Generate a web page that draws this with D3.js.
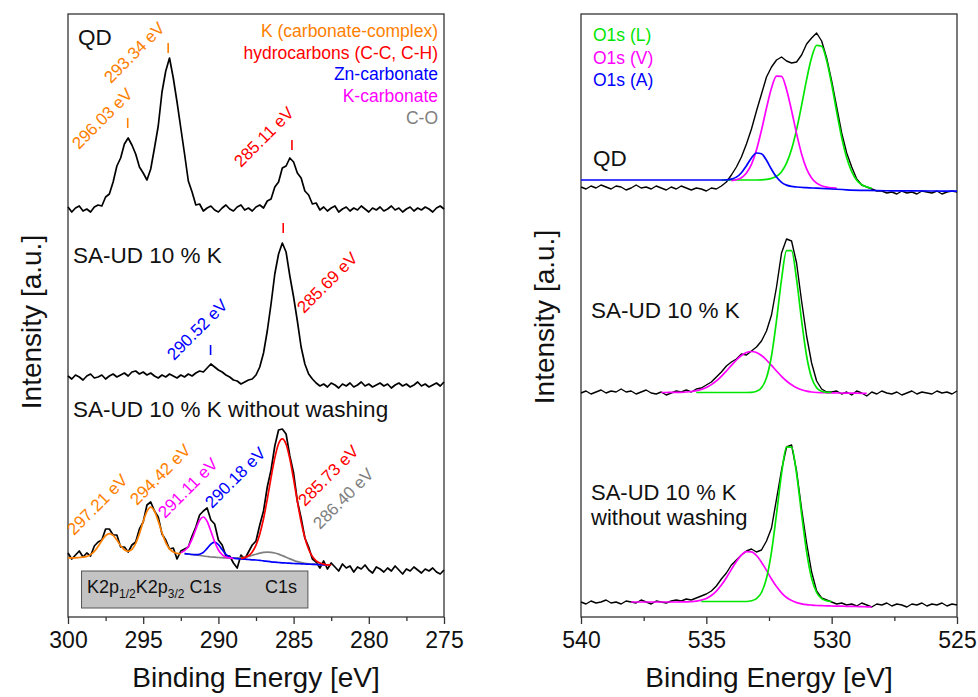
<!DOCTYPE html>
<html>
<head>
<meta charset="utf-8">
<script src="https://cdnjs.cloudflare.com/ajax/libs/d3/7.8.5/d3.min.js"></script>
<style>
  body { margin: 0; background: #fff; }
  svg { display: block; }
</style>
</head>
<body>
<svg id="chart" width="978" height="697"></svg>
<script>
// ---------- C1s / K2p panel (left), 300 -> 275 eV, 0.25 eV steps ----------
const c1sStart = 300, c1sStep = 0.25;
const c1sQD = [
  41.0, 40.5, 40.9, 41.1, 40.6, 40.8, 40.5, 41.0, 41.2, 41.1,
  42.0, 42.3, 43.5, 45.1, 45.9, 47.3, 47.9, 47.2, 46.3, 45.0,
  44.4, 43.7, 44.8, 46.9, 49.1, 52.5, 54.6, 55.9, 53.9, 51.5,
  48.9, 46.3, 43.6, 42.5, 41.2, 41.3, 40.6, 40.9, 41.1, 40.7,
  40.5, 40.9, 41.2, 40.8, 40.6, 41.0, 41.2, 40.7, 40.9, 40.6,
  41.0, 41.2, 40.9, 41.6, 41.8, 43.0, 43.5, 44.9, 45.1, 45.9,
  45.5, 44.4, 43.9, 42.6, 42.2, 41.3, 41.4, 40.7, 41.0, 40.6,
  40.9, 41.1, 40.5, 40.8, 41.0, 40.6, 40.9, 40.7, 41.1, 40.8,
  40.5, 40.9, 40.7, 41.0, 40.6, 40.8, 41.1, 40.7, 40.9, 40.5,
  40.8, 41.0, 40.6, 40.9, 40.7, 41.0, 40.8, 40.5, 40.9, 41.1,
  40.8];
const c1sSAUD = [
  24.1, 23.8, 24.2, 24.0, 23.7, 24.1, 24.3, 23.9, 24.0, 24.2,
  23.8, 24.1, 24.3, 24.0, 24.2, 24.4, 24.1, 24.5, 24.6, 24.3,
  24.5, 24.2, 24.4, 24.1, 23.9, 24.2, 24.0, 24.3, 24.1, 23.9,
  24.2, 24.0, 24.3, 24.1, 24.4, 24.6, 24.5, 24.9, 25.3, 25.0,
  24.7, 24.5, 24.2, 24.0, 23.7, 23.6, 23.3, 23.5, 23.7, 23.8,
  24.2, 25.0, 26.4, 28.6, 31.3, 34.3, 36.3, 37.4, 36.5, 34.1,
  32.0, 29.6, 27.0, 25.3, 24.3, 23.8, 23.4, 23.1, 23.3, 23.0,
  23.4, 23.2, 22.9, 23.3, 23.1, 23.4, 23.0, 23.2, 23.5, 23.1,
  23.3, 23.0, 23.2, 23.4, 23.1, 23.3, 22.9, 23.2, 23.4, 23.1,
  23.3, 23.0, 23.2, 23.5, 23.1, 23.3, 23.0, 23.2, 23.4, 23.1,
  23.5];
const c1sSAUDnw = [
  6.4, 5.8, 6.2, 6.6, 6.0, 6.4, 6.1, 7.1, 7.5, 7.7,
  8.8, 8.8, 8.2, 8.2, 7.0, 7.0, 6.5, 7.2, 7.5, 8.8,
  9.5, 11.2, 11.5, 10.6, 10.0, 8.3, 7.7, 6.8, 6.9, 5.8,
  6.6, 6.8, 7.0, 8.1, 9.0, 10.2, 10.6, 10.9, 9.7, 9.3,
  7.7, 7.2, 6.1, 6.1, 5.4, 4.9, 6.2, 5.8, 6.5, 7.2,
  7.6, 9.2, 10.6, 13.0, 14.7, 17.1, 18.7, 18.8, 18.3, 16.1,
  14.4, 11.6, 9.9, 7.9, 7.0, 5.8, 5.5, 4.9, 5.6, 4.8,
  5.4, 5.0, 4.6, 5.3, 4.9, 5.1, 4.5, 5.0, 4.8, 5.2,
  4.7, 4.4, 5.0, 4.8, 4.5, 4.9, 4.6, 5.1, 4.7, 4.3,
  4.8, 4.6, 5.0, 4.7, 4.4, 4.8, 4.6, 4.9, 4.5, 4.3,
  4.7];

// fitted components of "SA-UD 10 % K without washing" (0.25 eV steps)
const fitKComplex = [5.90, 5.91, 5.92, 5.95, 5.98, 6.06, 6.24, 6.56, 7.05, 7.64, 8.13, 8.34, 8.16, 7.69, 7.13, 6.73,
  6.57, 6.76, 7.35, 8.34, 9.54, 10.56, 10.98, 10.59, 9.59, 8.42, 7.44, 6.81, 6.49, 6.37, 6.34];        // from 300
const fitCO = [6.33, 6.30, 6.25, 6.20, 6.15, 6.10, 6.05, 6.00, 5.98, 5.95, 5.93, 5.90, 5.89, 5.89, 5.91, 5.93,
  5.99, 6.06, 6.17, 6.28, 6.38, 6.46, 6.49, 6.47, 6.40, 6.29, 6.14, 5.98, 5.81, 5.66, 5.54, 5.45,
  5.37, 5.32, 5.29, 5.26, 5.24, 5.22, 5.20];                                                             // from 292.25
const fitZnCarb = [6.33, 6.30, 6.25, 6.23, 6.28, 6.47, 6.86, 7.29, 7.48, 7.24, 6.74, 6.27, 6.01, 5.88, 5.83, 5.80,
  5.78, 5.75, 5.72, 5.70, 5.66, 5.62, 5.57, 5.52, 5.48, 5.45, 5.42, 5.40, 5.38, 5.35, 5.34, 5.32,
  5.30, 5.28, 5.27, 5.25, 5.24, 5.22, 5.20];                                                             // from 292.25
const fitKCarb = [6.44, 6.63, 7.05, 7.79, 8.78, 9.67, 10.0, 9.57, 8.58, 7.52, 6.70, 6.23, 5.99, 5.91, 5.85]; // from 292.5
const fitHydroC = [5.87, 5.94, 6.12, 6.50, 7.19, 8.28, 9.82, 11.79, 13.93, 15.91, 17.33, 17.82, 17.28, 15.81,
  13.76, 11.55, 9.52, 7.92, 6.77, 6.05, 5.62, 5.40, 5.29, 5.21, 5.20];                                    // from 288.5

const c1sTicks = [300, 295, 290, 285, 280, 275];
const c1sMinor = [297.5, 292.5, 287.5, 282.5, 277.5];
const c1sLegend = ["K (carbonate-complex)", "hydrocarbons (C-C, C-H)", "Zn-carbonate", "K-carbonate", "C-O"];

// peak annotations
const markText = ["296.03 eV", "293.34 eV", "285.11 eV", "290.52 eV", "285.69 eV",
  "297.21 eV", "294.42 eV", "291.11 eV", "290.18 eV", "285.73 eV", "286.40 eV"];
const markBE = [296.03, 293.34, 285.11, 290.52, 285.69];
const markTickBase = [48.9, 56.4, 46.7, 26.2, 38.4];

// ---------- O1s panel (right), 540 -> 525 eV, 0.2 eV steps ----------
const o1sStart = 540, o1sStep = 0.2;
const o1sQD = [
  43.0, 42.8, 43.1, 42.9, 43.2, 43.0, 42.8, 43.1, 43.0, 42.7,
  42.9, 43.2, 42.9, 43.0, 42.8, 43.1, 42.9, 42.7, 43.0, 42.8,
  43.1, 42.9, 42.7, 42.9, 42.8, 42.6, 42.9, 42.8, 43.1, 43.5,
  44.2, 45.0, 46.0, 47.3, 48.8, 50.6, 52.3, 54.0, 55.0, 55.7,
  56.0, 55.6, 55.4, 55.5, 56.2, 57.3, 57.9, 58.4, 57.6, 55.9,
  53.6, 51.0, 48.4, 46.4, 45.0, 43.8, 43.2, 43.0, 42.8, 42.6,
  42.6, 42.4, 42.5, 42.3, 42.6, 42.4, 42.5, 42.3, 42.6, 42.5,
  42.4, 42.6, 42.3, 42.5, 42.6, 42.5];
const o1sSAUD = [
  22.4, 22.6, 22.3, 22.5, 22.7, 22.4, 22.6, 22.5, 22.8, 22.5,
  22.6, 22.3, 22.5, 22.7, 22.4, 22.3, 22.5, 22.2, 22.4, 22.6,
  22.5, 22.7, 22.5, 22.8, 22.9, 23.2, 23.5, 24.0, 24.5, 25.1,
  25.5, 25.8, 26.3, 26.2, 26.6, 27.0, 27.6, 28.6, 30.2, 33.0,
  36.4, 37.8, 37.6, 35.4, 31.6, 28.1, 25.4, 23.6, 22.8, 22.5,
  22.5, 22.6, 22.3, 22.5, 22.2, 22.6, 22.4, 22.1, 22.5, 22.3,
  22.6, 22.4, 22.3, 22.5, 22.2, 22.4, 22.6, 22.3, 22.5, 22.4,
  22.3, 22.6, 22.4, 22.5, 22.3, 22.6];
const o1sSAUDnw = [
  1.5, 1.3, 1.6, 1.4, 1.5, 1.7, 1.4, 1.5, 1.3, 1.6,
  1.5, 1.4, 1.7, 1.5, 1.3, 1.6, 1.5, 1.4, 1.6, 1.7,
  1.6, 1.8, 1.7, 1.9, 2.1, 2.3, 2.6, 3.1, 3.8, 4.4,
  5.2, 5.7, 6.2, 6.6, 6.8, 6.5, 6.7, 7.6, 8.9, 11.8,
  14.7, 17.0, 17.2, 14.6, 10.8, 7.4, 4.5, 2.6, 1.9, 1.7,
  1.5, 1.3, 1.4, 1.2, 1.3, 1.1, 1.4, 1.2, 1.0, 1.3,
  1.2, 1.4, 1.1, 1.3, 1.2, 1.0, 1.3, 1.2, 1.4, 1.1,
  1.3, 1.2, 1.4, 1.1, 1.3, 1.2];

// O1s fitted components (0.2 eV steps unless given as pairs)
const fitLQD = [43.7, 43.7, 43.7, 43.7, 43.7, 43.7, 43.7, 43.7, 43.71, 43.76, 43.86, 44.07, 44.53, 45.38, 46.77,
  48.74, 51.16, 53.74, 55.94, 57.17, 57.07, 55.64, 53.26, 50.51, 47.94, 45.92, 44.53, 43.68, 43.22, 43.01, 42.86]; // from 534.4
const fitVQD = [43.64, 43.73, 43.93, 44.4, 45.27, 46.71, 48.67, 50.9, 52.91, 54.09, 54.07, 52.76, 50.65, 48.34,
  46.31, 44.82, 43.91, 43.38, 43.13, 42.99, 42.92, 42.9];                                                           // from 534.0
const fitAQD = [[540, 43.7], [534.4, 43.7], [534.2, 43.72], [534.0, 43.79], [533.8, 43.99], [533.6, 44.43],
  [533.4, 45.13], [533.2, 45.9], [533.0, 46.4], [532.8, 46.32], [532.6, 45.67], [532.4, 44.77], [532.2, 43.99],
  [532.0, 43.47], [531.8, 43.19], [531.6, 43.06], [531.4, 43.0], [531.0, 42.93], [530.6, 42.88], [530.0, 42.8],
  [529.4, 42.72], [528.6, 42.66], [527.6, 42.62], [526.0, 42.6], [525.0, 42.58]];
const fitVSAUD = [22.45, 22.45, 22.46, 22.46, 22.47, 22.5, 22.55, 22.63, 22.76, 22.95, 23.24, 23.61, 24.07, 24.6,
  25.16, 25.7, 26.15, 26.45, 26.55, 26.45, 26.15, 25.7, 25.16, 24.6, 24.07, 23.6, 23.22, 22.92, 22.72, 22.58,
  22.5, 22.45, 22.43, 22.42, 22.41, 22.4, 22.4, 22.39, 22.39, 22.38, 22.37, 22.37];                               // from 536.8
const fitLSAUD = [22.45, 22.45, 22.45, 22.45, 22.45, 22.45, 22.45, 22.45, 22.45, 22.45, 22.45, 22.46, 22.57, 22.92,
  23.92, 26.1, 29.65, 33.77, 36.64, 36.64, 33.77, 29.65, 26.1, 23.92, 22.92, 22.57, 22.46, 22.45];                 // from 535.4
const fitVSAUDnw = [1.5, 1.5, 1.5, 1.5, 1.5, 1.5, 1.5, 1.5, 1.5, 1.5, 1.51, 1.52, 1.54, 1.59, 1.69, 1.86, 2.15,
  2.59, 3.19, 3.93, 4.76, 5.56, 6.19, 6.53, 6.52, 6.15, 5.48, 4.66, 3.8, 3.04, 2.42, 1.95, 1.64, 1.44, 1.32, 1.24,
  1.19, 1.15, 1.13, 1.12, 1.1, 1.09, 1.08, 1.07, 1.06, 1.05, 1.04, 1.02, 1.0];                                     // from 538.0
const fitLSAUDnw = [1.55, 1.55, 1.55, 1.55, 1.55, 1.55, 1.55, 1.55, 1.55, 1.55, 1.63, 1.83, 2.45, 3.87, 6.51, 10.3,
  14.32, 16.99, 16.99, 14.32, 10.3, 6.51, 3.87, 2.45, 1.83, 1.63, 1.55];                                          // from 535.2

const o1sTicks = [540, 535, 530, 525];
const o1sMinor = [537.5, 532.5, 527.5];
const o1sLegend = ["O1s (L)", "O1s (V)", "O1s (A)"];

// ---------- drawing ----------
const FONT = '"Liberation Sans", Arial, Helvetica, sans-serif';
const ORANGE = "#ff8000", RED = "#ff0000", BLUE = "#0000ff", MAGENTA = "#ff00ff", GRAY = "#808080", GREEN = "#00e600";

const svg = d3.select("#chart").attr("font-family", FONT);
const y = d3.scaleLinear().domain([0, 60.3]).range([617, 14]);
const xC = d3.scaleLinear().domain([300, 275]).range([68, 444]);
const xO = d3.scaleLinear().domain([540, 525]).range([581, 957]);

// turn (start, step, values) into [BE, intensity] points
function steps(start, step, values) {
  return values.map((v, i) => [start - i * step, v]);
}

function drawLine(x, pts, color, width, curve) {
  const line = d3.line().x(d => x(d[0])).y(d => y(d[1])).curve(curve || d3.curveLinear);
  svg.append("path")
    .attr("d", line(pts))
    .attr("fill", "none")
    .attr("stroke", color)
    .attr("stroke-width", width)
    .attr("stroke-linejoin", "round");
}

function drawFrame(x, ticks, minor, ylabX, ylabY) {
  const [x0, x1] = x.range();
  svg.append("rect")
    .attr("x", x0).attr("y", 14)
    .attr("width", x1 - x0).attr("height", 603)
    .attr("fill", "none").attr("stroke", "#333").attr("stroke-width", 1.3);

  const major = svg.append("g").attr("transform", "translate(0,617)")
    .call(d3.axisBottom(x).tickValues(ticks).tickSize(7).tickSizeOuter(0).tickPadding(8).tickFormat(d3.format("d")));
  major.select(".domain").remove();
  major.attr("font-family", FONT).attr("font-size", 23);
  major.selectAll("line").attr("stroke", "#333").attr("stroke-width", 1.3);
  major.selectAll("text").attr("fill", "#111");

  const mnr = svg.append("g").attr("transform", "translate(0,617)")
    .call(d3.axisBottom(x).tickValues(minor).tickSize(4).tickSizeOuter(0).tickFormat(""));
  mnr.select(".domain").remove();
  mnr.selectAll("line").attr("stroke", "#333").attr("stroke-width", 1.3);

  svg.append("text")
    .attr("x", (x0 + x1) / 2).attr("y", 687)
    .attr("text-anchor", "middle").attr("font-size", 28).attr("fill", "#111")
    .text("Binding Energy [eV]");
  svg.append("text")
    .attr("transform", `translate(${ylabX},${ylabY}) rotate(-90)`)
    .attr("text-anchor", "middle").attr("font-size", 28).attr("fill", "#111")
    .text("Intensity [a.u.]");
}

function label(txt, x, yy, size, color, anchor) {
  return svg.append("text")
    .attr("x", x).attr("y", yy)
    .attr("font-size", size).attr("fill", color || "#111")
    .attr("text-anchor", anchor || "start")
    .text(txt);
}

// ----- left panel -----
drawFrame(xC, c1sTicks, c1sMinor, 41, 322);

// gray assignment box
svg.append("rect")
  .attr("x", xC(299.1)).attr("y", 571)
  .attr("width", xC(284.05) - xC(299.1)).attr("height", 37)
  .attr("fill", "#c3c3c3").attr("stroke", "#555").attr("stroke-width", 1);
const boxTxt = svg.append("text").attr("x", 87).attr("y", 593).attr("font-size", 18).attr("fill", "#111");
boxTxt.append("tspan").text("K2p");
boxTxt.append("tspan").attr("font-size", 12).attr("dy", 5).text("1/2");
boxTxt.append("tspan").attr("dy", -5).text("K2p");
boxTxt.append("tspan").attr("font-size", 12).attr("dy", 5).text("3/2");
boxTxt.append("tspan").attr("dy", -5).text(" C1s");
label("C1s", 265, 593, 18);

drawLine(xC, steps(c1sStart, c1sStep, c1sQD), "#000", 1.7);
drawLine(xC, steps(c1sStart, c1sStep, c1sSAUD), "#000", 1.7);
drawLine(xC, steps(c1sStart, c1sStep, c1sSAUDnw), "#000", 1.7);

const c1sFits = [
  { start: 300, values: fitKComplex, color: ORANGE },
  { start: 292.25, values: fitCO, color: GRAY },
  { start: 292.25, values: fitZnCarb, color: BLUE },
  { start: 292.5, values: fitKCarb, color: MAGENTA },
  { start: 288.5, values: fitHydroC, color: RED }
];
c1sFits.forEach(f => drawLine(xC, steps(f.start, 0.25, f.values), f.color, 1.7, d3.curveMonotoneX));

// legend
const c1sLegendColor = [ORANGE, RED, BLUE, MAGENTA, GRAY];
c1sLegend.forEach((t, i) => label(t, 438, 37 + i * 21.7, 17.5, c1sLegendColor[i], "end"));

// sample names
label("QD", 78, 45, 22.5);
label("SA-UD 10 % K", 73, 263, 22.5);
label("SA-UD 10 % K without washing", 73, 417, 22.5);

// peak markers and rotated energies
const markColor = [ORANGE, ORANGE, RED, BLUE, RED, ORANGE, ORANGE, MAGENTA, BLUE, RED, GRAY];
const markLabelAt = [[79, 150], [111, 84], [241, 168], [174, 361], [304, 314],
  [74, 536], [137, 506], [165, 519], [212, 509], [305, 507], [320, 530]];
markBE.forEach((be, i) => {
  svg.append("line")
    .attr("x1", xC(be)).attr("x2", xC(be))
    .attr("y1", y(markTickBase[i])).attr("y2", y(markTickBase[i]) - 10)
    .attr("stroke", markColor[i]).attr("stroke-width", 1.6);
});
markText.forEach((t, i) => {
  svg.append("text")
    .attr("transform", `translate(${markLabelAt[i][0]},${markLabelAt[i][1]}) rotate(-45)`)
    .attr("font-size", 17).attr("fill", markColor[i])
    .text(t);
});

// ----- right panel -----
drawFrame(xO, o1sTicks, o1sMinor, 554, 317);

drawLine(xO, steps(o1sStart, o1sStep, o1sQD), "#000", 1.4);
drawLine(xO, steps(o1sStart, o1sStep, o1sSAUD), "#000", 1.4);
drawLine(xO, steps(o1sStart, o1sStep, o1sSAUDnw), "#000", 1.4);

drawLine(xO, steps(534.4, 0.2, fitLQD), GREEN, 1.7, d3.curveMonotoneX);
drawLine(xO, steps(534.0, 0.2, fitVQD), MAGENTA, 1.7, d3.curveMonotoneX);
drawLine(xO, fitAQD, BLUE, 1.7, d3.curveMonotoneX);
drawLine(xO, steps(536.8, 0.2, fitVSAUD), MAGENTA, 1.7, d3.curveMonotoneX);
drawLine(xO, steps(535.4, 0.2, fitLSAUD), GREEN, 1.7, d3.curveMonotoneX);
drawLine(xO, steps(538.0, 0.2, fitVSAUDnw), MAGENTA, 1.7, d3.curveMonotoneX);
drawLine(xO, steps(535.2, 0.2, fitLSAUDnw), GREEN, 1.7, d3.curveMonotoneX);

const o1sLegendColor = [GREEN, MAGENTA, BLUE];
o1sLegend.forEach((t, i) => label(t, 593, 41 + i * 22.5, 17.5, o1sLegendColor[i]));

label("QD", 593, 166, 22.5);
label("SA-UD 10 % K", 591, 318, 22.5);
label("SA-UD 10 % K", 591, 500, 22);
label("without washing", 591, 525, 22);
</script>
</body>
</html>
